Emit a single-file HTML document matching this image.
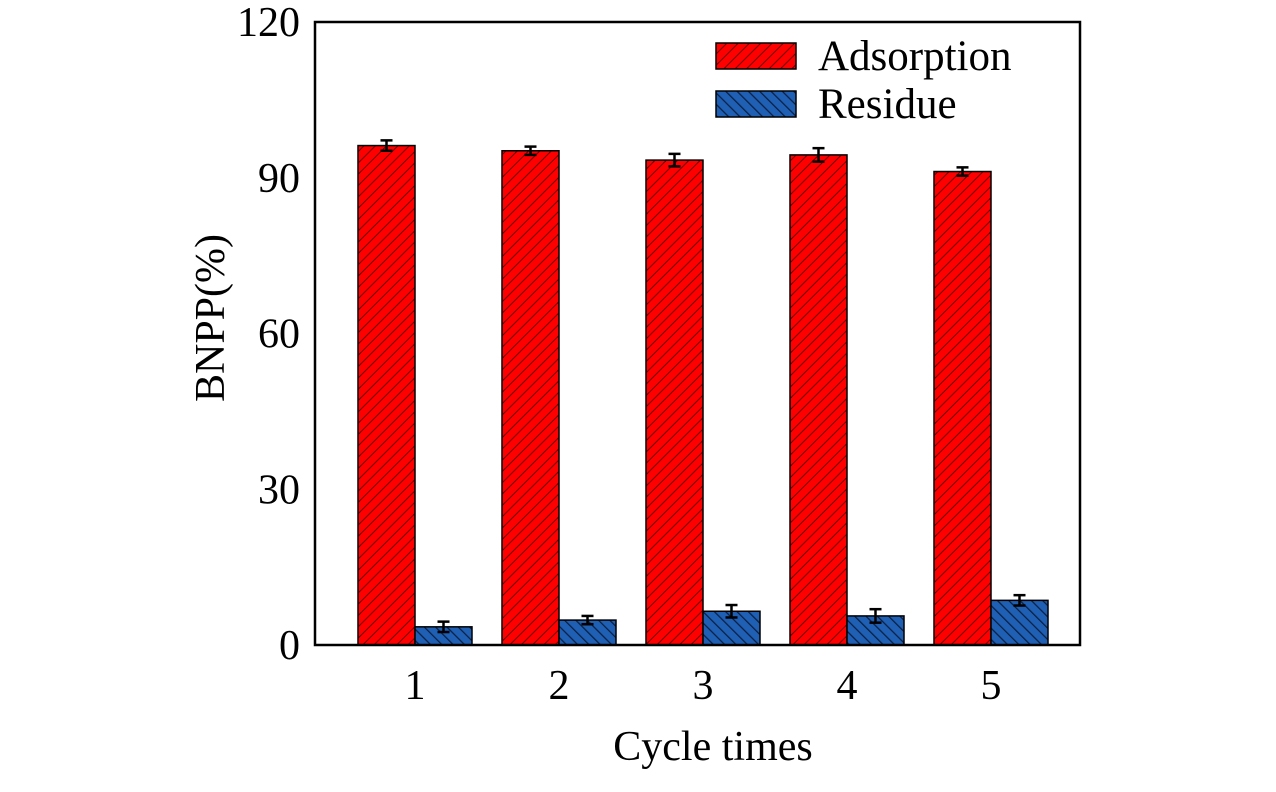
<!DOCTYPE html>
<html><head><meta charset="utf-8"><style>
body{margin:0;background:#fff}
text{font-family:"Liberation Serif",serif;fill:#000}
</style></head><body>
<svg id="c" width="1276" height="787" xmlns="http://www.w3.org/2000/svg">
<defs>
<pattern id="hr" width="8" height="8" patternUnits="userSpaceOnUse" patternTransform="rotate(45)">
<rect width="8" height="8" fill="#ff0000"/><line x1="0" y1="0" x2="0" y2="8" stroke="#600" stroke-width="2"/></pattern>
<pattern id="hb" width="8" height="8" patternUnits="userSpaceOnUse" patternTransform="rotate(-45)">
<rect width="8" height="8" fill="#1f5fb4"/><line x1="0" y1="0" x2="0" y2="8" stroke="#0a1f40" stroke-width="2.5"/></pattern>
</defs>
<g id="bars"></g>
<rect x="315" y="22" width="765" height="623" fill="none" stroke="#000" stroke-width="2.5"/>
<g id="axes"></g>
<text x="0" y="0" font-size="42" text-anchor="middle" transform="translate(224 318) rotate(-90)">BNPP(%)</text>
<text x="713" y="760" font-size="42" text-anchor="middle">Cycle times</text>
<rect x="716" y="43" width="80" height="26" fill="url(#hr)" stroke="#000" stroke-width="1.5"/>
<text x="818" y="70" font-size="43">Adsorption</text>
<rect x="716" y="91" width="80" height="26" fill="url(#hb)" stroke="#000" stroke-width="1.5"/>
<text x="818" y="118" font-size="43">Residue</text>
</svg>
<script>
const categories=["1","2","3","4","5"];
const adsorption=[96.2,95.2,93.4,94.4,91.2];
const adsorptionErr=[1.0,0.8,1.2,1.3,0.8];
const residue=[3.5,4.8,6.5,5.6,8.6];
const residueErr=[1.0,0.8,1.2,1.3,1.0];
const yTicks=[0,30,60,90,120];
const ns="http://www.w3.org/2000/svg";
const y=v=>645-v*(623/120);
const xc=i=>415+i*144;
const bw=57;
const bars=document.getElementById('bars'),axes=document.getElementById('axes');
function mk(t,a,p){const e=document.createElementNS(ns,t);for(const k in a)e.setAttribute(k,a[k]);p.appendChild(e);return e;}
function err(x,v,e,p){
 const g=mk('g',{stroke:'#000','stroke-width':2.5},p);
 
 
 mk('line',{x1:x,x2:x,y1:y(v+e),y2:y(v-e)},g);
 mk('line',{x1:x-6,x2:x+6,y1:y(v+e),y2:y(v+e)},g);
 mk('line',{x1:x-6,x2:x+6,y1:y(v-e),y2:y(v-e)},g);
}
categories.forEach((c,i)=>{
 const a=mk('rect',{x:xc(i)-bw,y:y(adsorption[i]),width:bw,height:y(0)-y(adsorption[i]),fill:'url(#hr)',stroke:'#000','stroke-width':1.5},bars);
 
 
 const r=mk('rect',{x:xc(i),y:y(residue[i]),width:bw,height:y(0)-y(residue[i]),fill:'url(#hb)',stroke:'#000','stroke-width':1.5},bars);
 
 
 err(xc(i)-bw/2,adsorption[i],adsorptionErr[i],bars);
 err(xc(i)+bw/2,residue[i],residueErr[i],bars);
 const t=mk('text',{x:xc(i),y:699,'font-size':42,'text-anchor':'middle'},axes);
 t.textContent=c;
 
 
});
yTicks.forEach(v=>{
 const t=mk('text',{x:300,y:y(v)+14,'font-size':42,'text-anchor':'end'},axes);
 t.textContent=v;
 
 
});
</script>
</body></html>
